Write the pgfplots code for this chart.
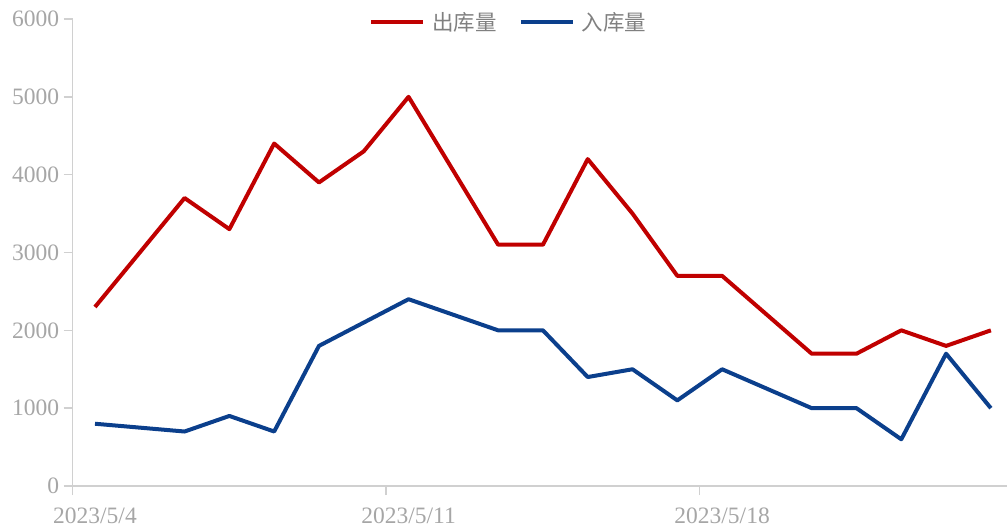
\documentclass[border=0pt]{standalone}
\usepackage{pgfplots}
\pgfplotsset{compat=1.18}
\usepackage{fontspec}
\setmainfont{Liberation Serif}
\newfontfamily\cjk{Noto Sans CJK SC}
\definecolor{redA}{HTML}{C00000}
\definecolor{blueA}{HTML}{0B3F8C}
\definecolor{axgray}{HTML}{D0D0D0}
\definecolor{lblgray}{HTML}{A6A6A6}
\definecolor{leggray}{HTML}{808080}
\begin{document}
\begin{tikzpicture}
\useasboundingbox (-72.6pt,-45pt) rectangle (934.4pt,486pt);
\begin{axis}[
  scale only axis, width=934.4pt, height=467pt,
  xmin=0, xmax=20.86, ymin=0, ymax=6000,
  axis x line=bottom, axis y line=left,
  axis line style={-, draw=axgray, line width=1.8pt},
  ytick={0,1000,...,6000},
  /pgf/number format/1000 sep={},
  /pgf/number format/assume math mode=true,
  tick label style={font=\fontsize{23.5}{23.5}\selectfont, text=lblgray},
  tick style={draw=axgray, line width=1.5pt},
  major tick length=9pt, tick align=outside,
  yticklabel style={xshift=-1pt},
  xtick={0.5,7.5,14.5},
  xticklabels={2023/5/4,2023/5/11,2023/5/18},
  x tick style={draw=none},
  xticklabel style={yshift=-9pt},
  extra x ticks={0,7,14},
  extra x tick labels={},
  extra x tick style={x tick style={draw=axgray, line width=1.5pt}},
  clip=false,
  legend columns=2,
  legend style={draw=none, fill=none, at={(0.467,0.994)}, anchor=center,
    font=\cjk\fontsize{21.5}{21.5}\selectfont, text=leggray,
    /tikz/every even column/.append style={column sep=20pt},
    /tikz/every odd column/.append style={column sep=5pt}},
  legend image code/.code={\draw[#1] (0pt,0pt) -- (52pt,0pt);},
]
\addplot[redA, line width=4pt, line join=round] coordinates {
  (0.5,2300) (2.5,3700) (3.5,3300) (4.5,4400) (5.5,3900) (6.5,4300)
  (7.5,5000) (9.5,3100) (10.5,3100) (11.5,4200) (12.5,3500) (13.5,2700)
  (14.5,2700) (16.5,1700) (17.5,1700) (18.5,2000) (19.5,1800) (20.5,2000)};
\addlegendentry{出库量}
\addplot[blueA, line width=4pt, line join=round] coordinates {
  (0.5,800) (2.5,700) (3.5,900) (4.5,700) (5.5,1800) (6.5,2100)
  (7.5,2400) (9.5,2000) (10.5,2000) (11.5,1400) (12.5,1500) (13.5,1100)
  (14.5,1500) (16.5,1000) (17.5,1000) (18.5,600) (19.5,1700) (20.5,1000)};
\addlegendentry{入库量}
\end{axis}
\end{tikzpicture}
\end{document}
